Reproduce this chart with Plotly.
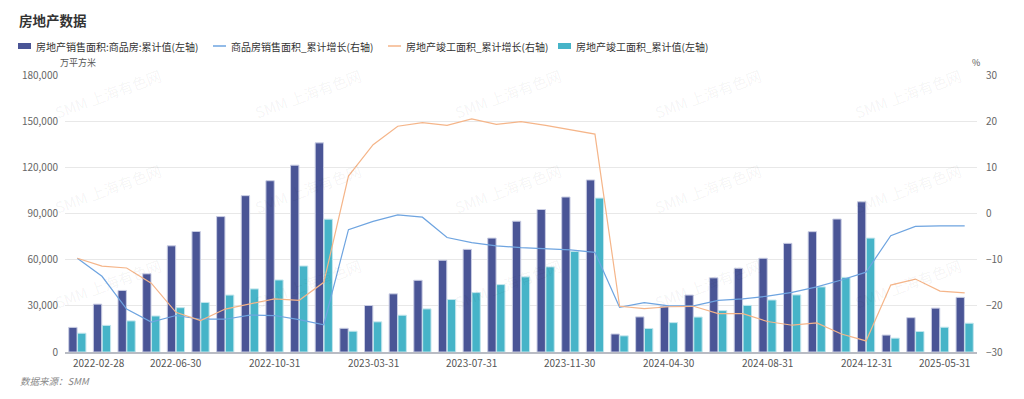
import plotly.graph_objects as go

months = [
    "2022-02-28", "2022-03-31", "2022-04-30", "2022-05-31", "2022-06-30", "2022-07-31",
    "2022-08-31", "2022-09-30", "2022-10-31", "2022-11-30", "2022-12-31",
    "2023-02-28", "2023-03-31", "2023-04-30", "2023-05-31", "2023-06-30", "2023-07-31",
    "2023-08-31", "2023-09-30", "2023-10-31", "2023-11-30", "2023-12-31",
    "2024-02-29", "2024-03-31", "2024-04-30", "2024-05-31", "2024-06-30", "2024-07-31",
    "2024-08-31", "2024-09-30", "2024-10-31", "2024-11-30", "2024-12-31",
    "2025-02-28", "2025-03-31", "2025-04-30", "2025-05-31",
]

sales_area = [
    16000, 31100, 40000, 50800, 69000, 78300, 88000, 101600, 111300, 121400, 135900,
    15400, 30200, 37800, 46600, 59600, 66700, 74000, 85000, 92600, 100700, 111800,
    11700, 22800, 29500, 37000, 48200, 54400, 60900, 70600, 78200, 86400, 97600,
    11000, 22300, 28500, 35500,
]

completion_area = [
    12200, 17300, 20200, 23400, 28800, 32200, 37000, 41000, 46800, 55900, 86300,
    13500, 19600, 23900, 28000, 34100, 38600, 43800, 48800, 55300, 65400, 100000,
    10500, 15300, 19100, 22700, 26900, 30300, 33800, 37100, 42300, 48500, 74000,
    9000, 13300, 16100, 18700,
]

sales_growth = [
    -9.7, -13.6, -20.7, -23.5, -22.1, -22.9, -22.9, -22.0, -22.1, -23.0, -24.1,
    -3.5, -1.7, -0.3, -0.8, -5.2, -6.3, -7.0, -7.4, -7.6, -7.9, -8.4,
    -20.3, -19.3, -20.0, -20.0, -18.8, -18.5, -17.9, -17.1, -15.9, -14.4, -12.7,
    -4.8, -2.8, -2.7, -2.7,
]

completion_growth = [
    -9.7, -11.4, -11.8, -15.1, -21.4, -23.2, -20.7, -19.6, -18.5, -18.8, -14.9,
    8.1, 14.9, 18.9, 19.7, 19.1, 20.5, 19.3, 19.9, 19.1, 18.1, 17.2,
    -20.1, -20.6, -20.2, -20.1, -21.7, -21.7, -23.4, -24.2, -23.7, -26.1, -27.6,
    -15.5, -14.2, -16.8, -17.2,
]

tick_labels = months[::4]

series_names = [
    "房地产销售面积:商品房:累计值(左轴)",
    "商品房销售面积_累计增长(右轴)",
    "房地产竣工面积_累计增长(右轴)",
    "房地产竣工面积_累计值(左轴)",
]
series_colors = ["#4a5596", "#6ea4e0", "#f5b589", "#46b4c8"]

FONT = "Noto Sans CJK SC, Noto Sans, sans-serif"

# page has an 8px body margin: lay out in screen pixels, then offset
OFF = 8
FIG_W, FIG_H = 1024 - OFF, 399 - OFF

fig = go.Figure()
fig.add_trace(go.Bar(
    x=months, y=sales_area, name=series_names[0],
    marker=dict(color=series_colors[0], line=dict(color="#c9cde3", width=1)),
    yaxis="y",
))
fig.add_trace(go.Scatter(
    x=months, y=sales_growth, name=series_names[1],
    mode="lines", line=dict(color=series_colors[1], width=1.2), yaxis="y2",
))
fig.add_trace(go.Scatter(
    x=months, y=completion_growth, name=series_names[2],
    mode="lines", line=dict(color=series_colors[2], width=1.2), yaxis="y2",
))
fig.add_trace(go.Bar(
    x=months, y=completion_area, name=series_names[3],
    marker=dict(color=series_colors[3], line=dict(color="#c3e6ed", width=1)),
    yaxis="y",
))

# plot area in screen pixels
L, R, T, B = 65, 977, 75, 352
W, H = R - L, B - T


def px(x):
    return (x - L) / W


def py(y):
    return (B - y) / H


ann = []
shapes = []

# title
ann.append(dict(text="<b>房地产数据</b>", x=px(17), y=py(20), xref="paper", yref="paper",
                showarrow=False, font=dict(size=13.5, color="#333"), xanchor="left", yanchor="middle"))

# manual legend (symbol + text), positions in screen pixels
legend_x = [18, 213, 388, 558]
legend_kind = ["bar", "line", "line", "bar"]
for name, color, lx, kind in zip(series_names, series_colors, legend_x, legend_kind):
    if kind == "bar":
        shapes.append(dict(type="rect", xref="paper", yref="paper",
                           x0=px(lx), x1=px(lx + 13), y0=py(49), y1=py(43),
                           fillcolor=color, line=dict(width=0)))
    else:
        shapes.append(dict(type="line", xref="paper", yref="paper",
                           x0=px(lx), x1=px(lx + 13), y0=py(46), y1=py(46),
                           line=dict(color=color, width=1.5)))
    ann.append(dict(text=name, x=px(lx + 16), y=py(46), xref="paper", yref="paper",
                    showarrow=False, font=dict(size=10, color="#333"),
                    xanchor="left", yanchor="middle"))

ann.append(dict(text="万平方米", x=px(78), y=py(62), xref="paper", yref="paper",
                showarrow=False, font=dict(size=9, color="#555"), xanchor="center", yanchor="middle"))
ann.append(dict(text="%", x=px(976), y=py(62), xref="paper", yref="paper",
                showarrow=False, font=dict(size=9, color="#555"), xanchor="center", yanchor="middle"))
ann.append(dict(text="<i>数据来源：SMM</i>", x=px(18), y=py(381), xref="paper", yref="paper",
                showarrow=False, font=dict(size=9.5, color="#888"), xanchor="left", yanchor="middle"))

# x tick labels (first/last nudged inward like the reference)
for i, lab in enumerate(tick_labels):
    shift = 0
    if i == 0:
        shift = 22
    elif i == len(tick_labels) - 1:
        shift = -20
    ann.append(dict(text=lab, x=lab, xref="x", y=py(362), yref="paper", xshift=shift,
                    showarrow=False, font=dict(size=10, color="#555"),
                    xanchor="center", yanchor="middle"))

# watermarks
for cx in [108, 308, 508, 708, 908]:
    for cy in [93, 188, 283]:
        ann.append(dict(text="SMM 上海有色网", x=px(cx), y=py(cy), xref="paper", yref="paper",
                        showarrow=False, textangle=-20,
                        font=dict(size=15, color="rgba(0,0,0,0.05)"),
                        xanchor="center", yanchor="middle"))

fig.update_layout(
    width=FIG_W, height=FIG_H,
    margin=dict(l=L - OFF, r=1024 - R, t=T - OFF, b=399 - B, pad=0, autoexpand=False),
    paper_bgcolor="white", plot_bgcolor="white",
    font=dict(family=FONT, size=11, color="#555"),
    barmode="group", bargap=0.28, bargroupgap=0.06,
    showlegend=False,
    xaxis=dict(type="category", categoryorder="array", categoryarray=months,
               showticklabels=False,
               showgrid=False, showline=True, linecolor="#b9bcc4", linewidth=1.5,
               ticks=""),
    yaxis=dict(range=[0, 180000], dtick=30000, tickformat=",", showgrid=True,
               gridcolor="#e8e8e8", gridwidth=1, zeroline=False, showline=False,
               ticks="", tickfont=dict(size=10, color="#666"), ticklabelstandoff=6),
    yaxis2=dict(range=[-30, 30], dtick=10, overlaying="y", side="right", showgrid=False,
                zeroline=False, showline=False, ticks="",
                tickfont=dict(size=10, color="#666"), ticklabelstandoff=8),
    annotations=ann,
    shapes=shapes,
)

fig.write_html("out.html")
